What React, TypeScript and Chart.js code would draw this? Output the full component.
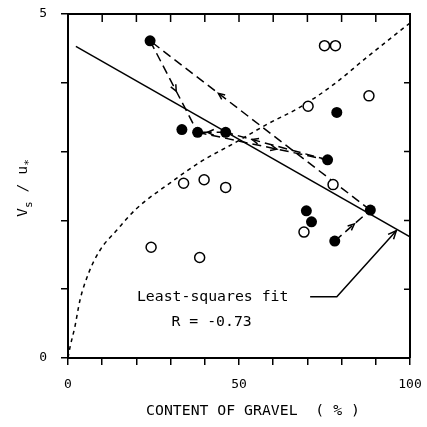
import React, { useEffect, useRef } from 'react';
import { Chart, registerables } from 'chart.js';

Chart.register(...registerables);

const FONT = '"DejaVu Sans Mono", "Liberation Mono", monospace';

// Filled circles (content of gravel %, Vs/u*)
const filledX = [24.0, 33.3, 37.9, 46.1, 75.9, 78.6, 88.4, 69.7, 71.2, 78.0];
const filledY = [4.61, 3.32, 3.28, 3.28, 2.88, 3.57, 2.15, 2.14, 1.98, 1.70];

// Open circles
const openX = [75.0, 78.2, 88.0, 70.2, 77.5, 69.0, 33.8, 39.8, 46.1, 24.3, 38.5];
const openY = [4.54, 4.54, 3.81, 3.66, 2.52, 1.83, 2.54, 2.59, 2.48, 1.61, 1.46];

// Least-squares fit line (end points)
const fitX = [2.3, 100];
const fitY = [4.53, 1.76];

// Dotted reference curve
const curveX = [0, 0.6, 2, 3.5, 6, 9.4, 14.3, 20, 30, 38.7, 48.5, 58.3, 68, 77.8, 87.6, 100];
const curveY = [0, 0.16, 0.45, 0.84, 1.23, 1.57, 1.86, 2.17, 2.55, 2.85, 3.12, 3.4, 3.65, 3.98, 4.38, 4.87];

// Dashed arrows between filled points: [from index, to index]
const pathFrom = [0, 6, 4, 3, 2, 9];
const pathTo = [2, 0, 3, 2, 4, 6];

// Leader line for the annotation
const leaderX = [70.8, 78.6, 96.0];
const leaderY = [0.89, 0.89, 1.85];

// Axis ticks
const xTicksLabeled = [0, 50, 100];
const yTicksLabeled = [0, 5];
const xMinorTicks = [10, 20, 30, 40, 50, 60, 70, 80, 90];
const yMinorTicks = [1, 2, 3, 4];

const fitLabel = 'Least-squares fit';
const rLabel = 'R = -0.73';
const xTitle = 'CONTENT OF GRAVEL  ( % )';

export default function App() {
  const ref = useRef<HTMLCanvasElement>(null);

  useEffect(() => {
    document.body.style.margin = '0';
    const canvas = ref.current;
    if (!canvas) return;

    const toPts = (xs: number[], ys: number[]) => xs.map((x, i) => ({ x, y: ys[i] }));

    const arrowFrac = [0.55, 0.69, 0.74, 0.65, 0.61, 0.55];

    const segDatasets = pathFrom.map((a, i) => ({
      data: [
        { x: filledX[a], y: filledY[a] },
        { x: filledX[pathTo[i]], y: filledY[pathTo[i]] },
      ],
      showLine: true,
      borderColor: '#000',
      borderWidth: 1.5,
      borderDash: [9, 5],
      pointRadius: 0,
      order: 2,
    }));

    const drawHead = (ctx: CanvasRenderingContext2D, x: number, y: number, ang: number, len: number) => {
      ctx.beginPath();
      ctx.moveTo(x - len * Math.cos(ang - 0.42), y - len * Math.sin(ang - 0.42));
      ctx.lineTo(x, y);
      ctx.lineTo(x - len * Math.cos(ang + 0.42), y - len * Math.sin(ang + 0.42));
      ctx.stroke();
    };

    const overlay = {
      id: 'overlay',
      afterDraw(chart: any) {
        const { ctx, chartArea: ca } = chart;
        const xs = chart.scales.x;
        const ys = chart.scales.y;
        const px = (v: number) => xs.getPixelForValue(v);
        const py = (v: number) => ys.getPixelForValue(v);
        ctx.save();
        ctx.strokeStyle = '#000';
        ctx.fillStyle = '#000';
        ctx.setLineDash([]);
        ctx.lineWidth = 2;
        ctx.beginPath();
        ctx.moveTo(ca.left, ca.top);
        ctx.lineTo(ca.right, ca.top);
        ctx.lineTo(ca.right, ca.bottom);
        ctx.stroke();
        ctx.lineWidth = 1.5;
        ctx.beginPath();
        xMinorTicks.forEach((v) => {
          ctx.moveTo(px(v), ca.top);
          ctx.lineTo(px(v), ca.top + 8);
        });
        yMinorTicks.forEach((v) => {
          ctx.moveTo(ca.right, py(v));
          ctx.lineTo(ca.right - 6, py(v));
        });
        ctx.stroke();

        pathFrom.forEach((a, i) => {
          const b = pathTo[i];
          const x1 = px(filledX[a]), y1 = py(filledY[a]);
          const x2 = px(filledX[b]), y2 = py(filledY[b]);
          const f = arrowFrac[i];
          const ang = Math.atan2(y2 - y1, x2 - x1);
          drawHead(ctx, x1 + (x2 - x1) * f, y1 + (y2 - y1) * f, ang, 7);
        });

        const n = leaderX.length;
        const lx1 = px(leaderX[n - 2]), ly1 = py(leaderY[n - 2]);
        const lx2 = px(leaderX[n - 1]), ly2 = py(leaderY[n - 1]);
        drawHead(ctx, lx2, ly2, Math.atan2(ly2 - ly1, lx2 - lx1), 9);

        ctx.font = `14.8px ${FONT}`;
        ctx.textAlign = 'center';
        ctx.textBaseline = 'middle';
        ctx.fillText(fitLabel, px(42.3), py(0.88));
        ctx.fillText(rLabel, px(42.0), py(0.52));

        ctx.fillText(xTitle, 253, 411);

        ctx.translate(27, 188);
        ctx.rotate(-Math.PI / 2);
        ctx.textAlign = 'left';
        ctx.textBaseline = 'alphabetic';
        const main = `14.8px ${FONT}`;
        const sub = `11px ${FONT}`;
        const parts: [string, string, number][] = [
          ['V', main, 0],
          ['s', sub, 5],
          [' / ', main, 0],
          ['u', main, 0],
          ['*', sub, 5],
        ];
        let total = 0;
        parts.forEach(([t, f]) => {
          ctx.font = f;
          total += ctx.measureText(t).width;
        });
        let cx = -total / 2;
        parts.forEach(([t, f, dy]) => {
          ctx.font = f;
          ctx.fillText(t, cx, dy);
          cx += ctx.measureText(t).width;
        });
        ctx.restore();
      },
    };

    const chart = new Chart(canvas, {
      type: 'scatter',
      data: {
        datasets: [
          {
            data: toPts(filledX, filledY),
            pointRadius: 5.5,
            pointBackgroundColor: '#000',
            pointBorderColor: '#000',
            pointBorderWidth: 0,
            showLine: false,
            order: 0,
          },
          {
            data: toPts(openX, openY),
            pointRadius: 5,
            pointBackgroundColor: '#fff',
            pointBorderColor: '#000',
            pointBorderWidth: 1.5,
            showLine: false,
            order: 0,
          },
          {
            data: toPts(fitX, fitY),
            showLine: true,
            borderColor: '#000',
            borderWidth: 1.5,
            pointRadius: 0,
            order: 3,
          },
          {
            data: toPts(curveX, curveY),
            showLine: true,
            borderColor: '#000',
            borderWidth: 1.5,
            borderDash: [4, 4],
            cubicInterpolationMode: 'monotone',
            pointRadius: 0,
            order: 3,
          },
          {
            data: toPts(leaderX, leaderY),
            showLine: true,
            borderColor: '#000',
            borderWidth: 1.5,
            pointRadius: 0,
            order: 3,
          },
          ...segDatasets,
        ] as any,
      },
      options: {
        responsive: false,
        animation: false,
        devicePixelRatio: 1,
        layout: { padding: { top: 14, right: 17, left: 0, bottom: 0 } },
        plugins: {
          legend: { display: false },
          tooltip: { enabled: false },
        },
        scales: {
          x: {
            type: 'linear',
            position: 'bottom',
            min: 0,
            max: 100,
            afterFit: (s: any) => {
              s.height = 69;
              s.paddingLeft = 0;
              s.paddingRight = 0;
            },
            border: { display: true, color: '#000', width: 2 },
            grid: { drawOnChartArea: false, drawTicks: true, tickLength: 7, color: '#000', lineWidth: 1.5 },
            ticks: {
              stepSize: 10,
              autoSkip: false,
              maxRotation: 0,
              padding: 12,
              color: '#000',
              font: { family: FONT, size: 13 },
              callback: (v: any) => (xTicksLabeled.includes(Number(v)) ? String(v) : ''),
            },
          },
          y: {
            type: 'linear',
            min: 0,
            max: 5,
            afterFit: (s: any) => {
              s.width = 68;
              s.paddingTop = 0;
              s.paddingBottom = 0;
            },
            border: { display: true, color: '#000', width: 2 },
            grid: { drawOnChartArea: false, drawTicks: true, tickLength: 7, color: '#000', lineWidth: 1.5 },
            ticks: {
              stepSize: 1,
              autoSkip: false,
              padding: 14,
              color: '#000',
              font: { family: FONT, size: 13 },
              callback: (v: any) => (yTicksLabeled.includes(Number(v)) ? String(v) : ''),
            },
          },
        },
      } as any,
      plugins: [overlay],
    });

    return () => chart.destroy();
  }, []);

  return <canvas ref={ref} width={427} height={427} style={{ display: 'block', width: 427, height: 427 }} />;
}
